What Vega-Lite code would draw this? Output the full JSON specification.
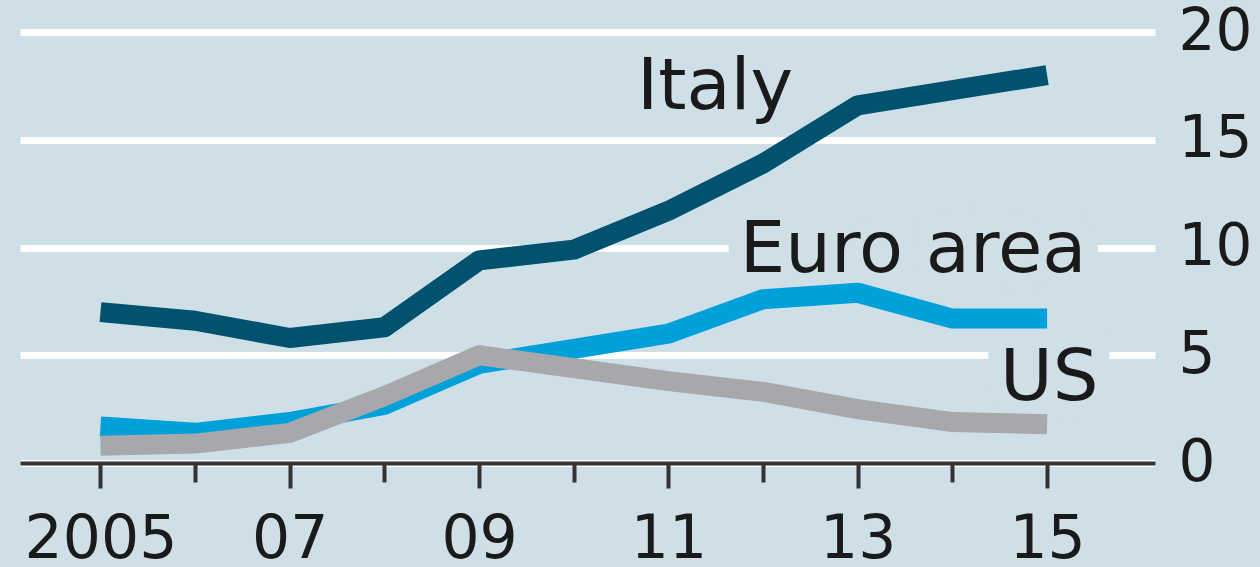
{
  "$schema": "https://vega.github.io/schema/vega-lite/v6.json",
  "width": 1135,
  "height": 431,
  "autosize": {"type": "none"},
  "padding": {"left": 20, "top": 32, "right": 105, "bottom": 104},
  "background": "#cfdfe7",
  "config": {"view": {"stroke": null}, "font": "DejaVu Sans"},
  "data": {
    "values": [
      {"year": 2005, "country": "Italy", "value": 7.0},
      {"year": 2006, "country": "Italy", "value": 6.6},
      {"year": 2007, "country": "Italy", "value": 5.8},
      {"year": 2008, "country": "Italy", "value": 6.3},
      {"year": 2009, "country": "Italy", "value": 9.4},
      {"year": 2010, "country": "Italy", "value": 9.9},
      {"year": 2011, "country": "Italy", "value": 11.7},
      {"year": 2012, "country": "Italy", "value": 13.9},
      {"year": 2013, "country": "Italy", "value": 16.6},
      {"year": 2014, "country": "Italy", "value": 17.3},
      {"year": 2015, "country": "Italy", "value": 18.0},
      {"year": 2005, "country": "Euro area", "value": 1.7},
      {"year": 2006, "country": "Euro area", "value": 1.4},
      {"year": 2007, "country": "Euro area", "value": 1.9},
      {"year": 2008, "country": "Euro area", "value": 2.7},
      {"year": 2009, "country": "Euro area", "value": 4.6},
      {"year": 2010, "country": "Euro area", "value": 5.3},
      {"year": 2011, "country": "Euro area", "value": 6.0},
      {"year": 2012, "country": "Euro area", "value": 7.6},
      {"year": 2013, "country": "Euro area", "value": 7.9},
      {"year": 2014, "country": "Euro area", "value": 6.7},
      {"year": 2015, "country": "Euro area", "value": 6.7},
      {"year": 2005, "country": "US", "value": 0.8},
      {"year": 2006, "country": "US", "value": 0.9},
      {"year": 2007, "country": "US", "value": 1.4},
      {"year": 2008, "country": "US", "value": 3.1},
      {"year": 2009, "country": "US", "value": 5.0},
      {"year": 2010, "country": "US", "value": 4.4},
      {"year": 2011, "country": "US", "value": 3.8},
      {"year": 2012, "country": "US", "value": 3.3},
      {"year": 2013, "country": "US", "value": 2.5},
      {"year": 2014, "country": "US", "value": 1.9},
      {"year": 2015, "country": "US", "value": 1.8}
    ]
  },
  "encoding": {
    "x": {
      "field": "year", "type": "quantitative",
      "scale": {"domain": [2004.15, 2016.14], "nice": false, "zero": false},
      "axis": {
        "title": null, "grid": false,
        "values": [2005, 2006, 2007, 2008, 2009, 2010, 2011, 2012, 2013, 2014, 2015],
        "labelExpr": "datum.value % 2 == 1 ? (datum.value == 2005 ? '2005' : substring(toString(datum.value), 2)) : ''",
        "domainColor": "#333333", "domainWidth": 4,
        "tickColor": "#333333", "tickWidth": 4,
        "tickSize": {"condition": {"test": "datum.value % 2 == 1", "value": 25}, "value": 19},
        "labelFontSize": 60, "labelColor": "#1a1a1a", "labelFont": "DejaVu Sans",
        "labelBaseline": "top", "labelPadding": 22, "labelFlush": false, "labelOverlap": false
      }
    },
    "y": {
      "field": "value", "type": "quantitative",
      "scale": {"domain": [0, 20], "nice": false},
      "axis": {
        "title": null, "orient": "right", "values": [0, 5, 10, 15, 20],
        "grid": true, "gridColor": "#ffffff", "gridWidth": 7, "gridOpacity": 1,
        "domain": false, "ticks": false,
        "labelFontSize": 58, "labelColor": "#1a1a1a", "labelFont": "DejaVu Sans",
        "labelAlign": "left", "labelBaseline": "middle", "labelPadding": 23,
        "labelFlush": false, "labelOverlap": false
      }
    }
  },
  "layer": [
    {
      "transform": [{"filter": "datum.country == 'Euro area' && datum.year == 2013"}],
      "mark": {"type": "text", "text": "Euro area", "align": "left", "baseline": "alphabetic", "dx": -118, "dy": -21, "fontSize": 72, "font": "DejaVu Sans", "fill": "#cfdfe7", "stroke": "#cfdfe7", "strokeWidth": 36}
    },
    {
      "transform": [{"filter": "datum.country == 'US' && datum.year == 2015"}],
      "mark": {"type": "text", "text": "US", "align": "left", "baseline": "alphabetic", "dx": -47, "dy": -24, "fontSize": 72, "font": "DejaVu Sans", "fill": "#cfdfe7", "stroke": "#cfdfe7", "strokeWidth": 36}
    },
    {
      "transform": [{"filter": "datum.country == 'Euro area'"}],
      "mark": {"type": "line", "color": "#00a0db", "strokeWidth": 20, "strokeCap": "butt", "strokeJoin": "round"}
    },
    {
      "transform": [{"filter": "datum.country == 'US'"}],
      "mark": {"type": "line", "color": "#a7a8ab", "strokeWidth": 20, "strokeCap": "butt", "strokeJoin": "round"}
    },
    {
      "transform": [{"filter": "datum.country == 'Italy'"}],
      "mark": {"type": "line", "color": "#00526e", "strokeWidth": 20, "strokeCap": "butt", "strokeJoin": "round"}
    },
    {
      "transform": [{"filter": "datum.country == 'Italy' && datum.year == 2012"}],
      "mark": {"type": "text", "text": "Italy", "align": "center", "baseline": "alphabetic", "dx": -48, "dy": -54, "fontSize": 72, "font": "DejaVu Sans", "fill": "#1a1a1a"}
    },
    {
      "transform": [{"filter": "datum.country == 'Euro area' && datum.year == 2013"}],
      "mark": {"type": "text", "text": "Euro area", "align": "left", "baseline": "alphabetic", "dx": -118, "dy": -21, "fontSize": 72, "font": "DejaVu Sans", "fill": "#1a1a1a"}
    },
    {
      "transform": [{"filter": "datum.country == 'US' && datum.year == 2015"}],
      "mark": {"type": "text", "text": "US", "align": "left", "baseline": "alphabetic", "dx": -47, "dy": -24, "fontSize": 72, "font": "DejaVu Sans", "fill": "#1a1a1a"}
    }
  ]
}
